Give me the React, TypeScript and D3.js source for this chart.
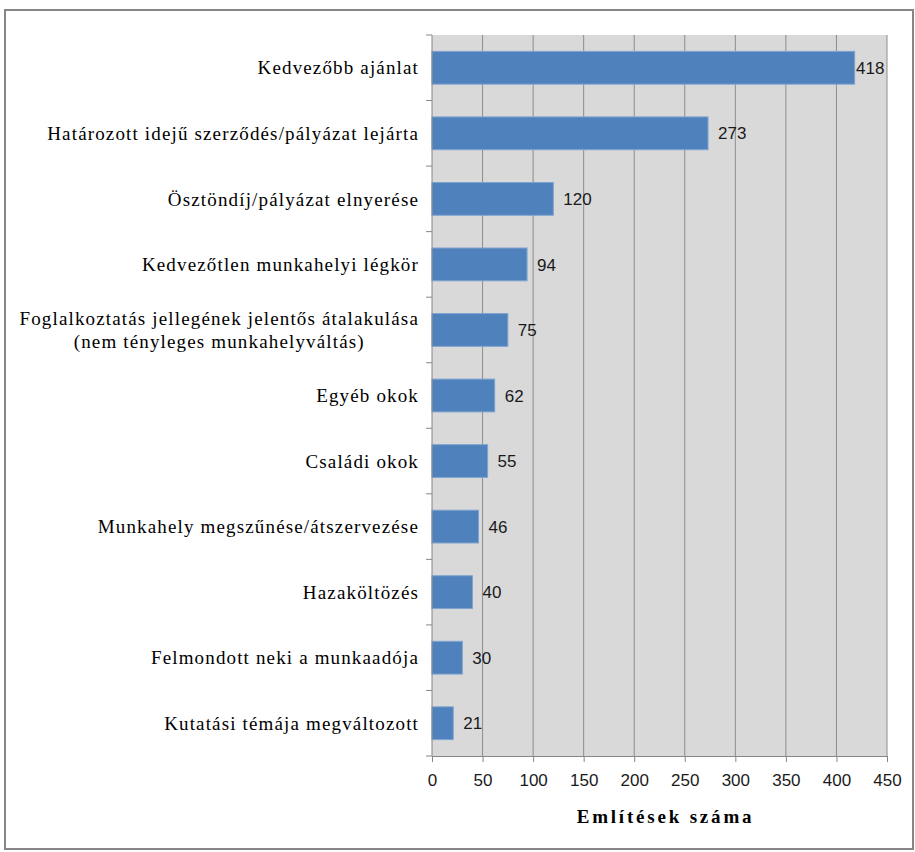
import { useEffect, useRef } from "react";
import * as d3 from "d3";

const categories = [
  "Kedvezőbb ajánlat",
  "Határozott idejű szerződés/pályázat lejárta",
  "Ösztöndíj/pályázat elnyerése",
  "Kedvezőtlen munkahelyi légkör",
  "Foglalkoztatás jellegének jelentős átalakulása\n(nem tényleges munkahelyváltás)",
  "Egyéb okok",
  "Családi okok",
  "Munkahely megszűnése/átszervezése",
  "Hazaköltözés",
  "Felmondott neki a munkaadója",
  "Kutatási témája megváltozott",
];
const values = [418, 273, 120, 94, 75, 62, 55, 46, 40, 30, 21];
const xTicks = [0, 50, 100, 150, 200, 250, 300, 350, 400, 450];
const axisTitle = "Említések száma";

const W = 915;
const H = 852;
const margin = { top: 35, right: 28, bottom: 96, left: 432 };

export default function App() {
  const svgRef = useRef<SVGSVGElement>(null);

  useEffect(() => {
    const svg = d3.select(svgRef.current);
    svg.selectAll("*").remove();

    const innerW = W - margin.left - margin.right;
    const innerH = H - margin.top - margin.bottom;

    const x = d3.scaleLinear().domain([0, 450]).range([0, innerW]);
    const y = d3.scaleBand<string>().domain(categories).range([0, innerH]).paddingInner(0.5).paddingOuter(0.25);

    // outer frame
    svg
      .append("rect")
      .attr("x", 5)
      .attr("y", 10)
      .attr("width", W - 7)
      .attr("height", H - 13)
      .attr("fill", "white")
      .attr("stroke", "#868686")
      .attr("stroke-width", 2);

    const g = svg.append("g").attr("transform", `translate(${margin.left},${margin.top})`);

    g.append("rect")
      .attr("width", innerW)
      .attr("height", innerH)
      .attr("fill", "#d9d9d9");

    // gridlines
    g.selectAll("line.grid")
      .data(xTicks.slice(1))
      .enter()
      .append("line")
      .attr("x1", (d) => x(d))
      .attr("x2", (d) => x(d))
      .attr("y1", 0)
      .attr("y2", innerH)
      .attr("stroke", "#8c8c8c")
      .attr("stroke-width", 1);

    // bars
    g.selectAll("rect.bar")
      .data(values)
      .enter()
      .append("rect")
      .attr("x", 0)
      .attr("y", (_, i) => y(categories[i])!)
      .attr("width", (d) => x(d))
      .attr("height", y.bandwidth())
      .attr("fill", "#4f81bd")
      .attr("stroke", "#7ea3d0")
      .attr("stroke-width", 1);

    // value labels
    g.selectAll("text.val")
      .data(values)
      .enter()
      .append("text")
      .attr("x", (d) => Math.min(x(d) + 10, innerW - 31))
      .attr("y", (_, i) => y(categories[i])! + y.bandwidth() / 2)
      .attr("dy", "0.36em")
      .attr("font-family", "'Liberation Sans', Arial, sans-serif")
      .attr("font-size", 17)
      .attr("fill", "#1a1a1a")
      .text((d) => d);

    // left axis with ticks at band boundaries
    g.append("line")
      .attr("x1", 0)
      .attr("x2", 0)
      .attr("y1", 0)
      .attr("y2", innerH)
      .attr("stroke", "#868686");
    const step = innerH / categories.length;
    g.selectAll("line.ytick")
      .data(d3.range(categories.length + 1))
      .enter()
      .append("line")
      .attr("x1", -6)
      .attr("x2", 0)
      .attr("y1", (d) => d * step)
      .attr("y2", (d) => d * step)
      .attr("stroke", "#868686");

    // category labels
    categories.forEach((c, i) => {
      const lines = c.split("\n");
      const cy = y(c)! + y.bandwidth() / 2;
      const t = g
        .append("text")
        .attr("text-anchor", "middle")
        .attr("font-family", "'Liberation Serif', 'Times New Roman', serif")
        .attr("font-size", 19)
        .attr("letter-spacing", 1.15)
        .attr("fill", "#000");
      lines.forEach((l, k) => {
        t.append("tspan")
          .attr("x", 0)
          .attr("y", cy + (k - (lines.length - 1) / 2) * 23)
          .attr("dy", "0.35em")
          .text(l);
      });
      // right-align block while centering multiline lines
      const bb = (t.node() as SVGTextElement).getBBox();
      t.attr("transform", `translate(${-13 - bb.x - bb.width},0)`);
    });

    // bottom axis
    const xAxis = g
      .append("g")
      .attr("transform", `translate(0,${innerH})`)
      .call(d3.axisBottom(x).tickValues(xTicks).tickSize(6).tickPadding(12));
    xAxis.select(".domain").attr("stroke", "#868686");
    xAxis.selectAll(".tick line").attr("stroke", "#868686");
    xAxis
      .selectAll(".tick text")
      .attr("font-family", "'Liberation Sans', Arial, sans-serif")
      .attr("font-size", 17)
      .attr("fill", "#1a1a1a");

    svg
      .append("text")
      .attr("x", margin.left + innerW / 2 + 6)
      .attr("y", 823)
      .attr("text-anchor", "middle")
      .attr("font-family", "'Liberation Serif', 'Times New Roman', serif")
      .attr("font-weight", "bold")
      .attr("font-size", 19)
      .attr("letter-spacing", 2.8)
      .text(axisTitle);
  }, []);

  return (
    <svg
      ref={svgRef}
      width={W}
      height={H}
      style={{ position: "absolute", left: 0, top: 0 }}
    />
  );
}
